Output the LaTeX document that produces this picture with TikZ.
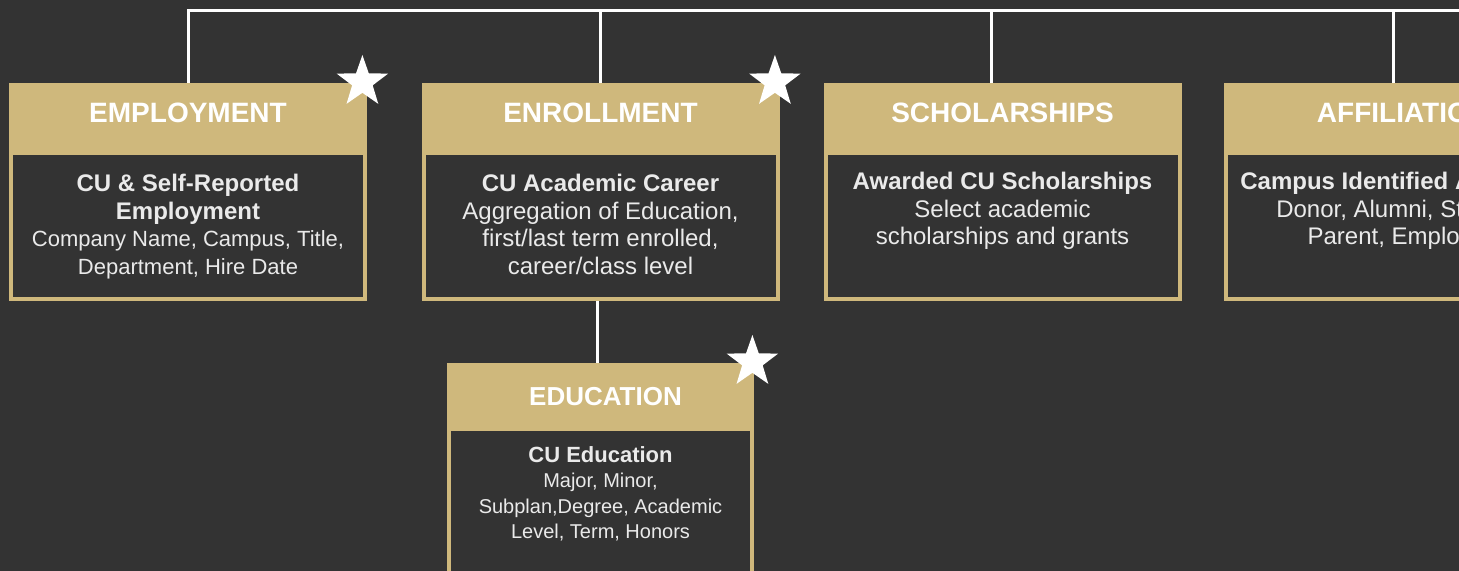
\documentclass[tikz,border=0pt]{standalone}
\usepackage{fontspec}
\setmainfont{Liberation Sans}
\usetikzlibrary{positioning,shapes.geometric,calc}
\definecolor{cugold}{HTML}{CFB87C}
\definecolor{slate}{HTML}{333333}
\definecolor{paleink}{HTML}{EAEAEA}
\tikzset{
  hdr/.style={rectangle,fill=cugold,text=white,font=\bfseries\fontsize{14}{16}\selectfont,
    minimum width=179pt,minimum height=35pt,inner sep=0pt,text height=10pt,text depth=6pt,anchor=north},
  eduhdr/.style={hdr,font=\bfseries\fontsize{13}{15}\selectfont,minimum width=153.5pt,
    minimum height=33pt,text height=9.3pt,text depth=0pt},
  boxframe/.style={rectangle,fill=slate,draw=cugold,line width=2pt,minimum width=177pt,
    minimum height=73pt,inner sep=0pt,anchor=north},
  bodytxt/.style={text=paleink,align=center,inner sep=0pt,font=\fontsize{11}{13.8}\selectfont},
  widetxt/.style={bodytxt,font=\fontsize{12}{13.8}\selectfont},
  wire/.style={draw=white,line width=1.5pt},
  starmark/.style={star,star points=5,star point ratio=2.5,fill=white,inner sep=0pt,minimum size=27pt}
}
\newcommand{\lead}[1]{{\bfseries\fontsize{12}{13.8}\selectfont #1}}
\begin{document}
\begin{tikzpicture}[x=0.5pt,y=-0.5pt]
\fill[slate] (0,0) rectangle (1459,571);
\useasboundingbox (0,0) rectangle (1459,571);
\clip (0,0) rectangle (1459,571);

% frames behind the headers
\node[boxframe] (empBox) at (188,151) {};
\node[boxframe] (enrBox) at (600.5,151) {};
\node[boxframe] (schBox) at (1002.5,151) {};
\node[boxframe] (affBox) at (1403,151) {};
\node[boxframe,minimum width=151.5pt,minimum height=100pt] (eduBox) at (600.5,427) {};

% headers
\node[hdr] (empHead) at (188,83) {EMPLOYMENT};
\node[hdr] (enrHead) at (600.5,83) {ENROLLMENT};
\node[hdr] (schHead) at (1002.5,83) {SCHOLARSHIPS};
\node[hdr] (affHead) at (1403,83) {AFFILIATION};
\node[eduhdr] (eduHead) at (600.5,363) {\hspace*{5pt}EDUCATION};

% body texts
\node[bodytxt,below=10pt of empHead] (empText) {\lead{CU \& Self-Reported}\\\lead{Employment}\\Company Name, Campus, Title,\\Department, Hire Date};
\node[widetxt,below=10pt of enrHead] (enrText) {\lead{CU Academic Career}\\Aggregation of Education,\\first/last term enrolled,\\career/class level};
\node[widetxt,below=9pt of schHead] (schText) {\lead{Awarded CU Scholarships}\\Select academic\\scholarships and grants};
\node[widetxt,below=9pt of affHead] (affText) {\lead{Campus Identified Affiliation}\\Donor, Alumni, Student,\\Parent, Employee};
\node[bodytxt,font=\fontsize{10}{12.8}\selectfont,below=8pt of eduHead] (eduText) {{\bfseries\fontsize{11}{12.8}\selectfont CU Education}\\Major, Minor,\\Subplan,Degree, Academic\\Level, Term, Honors};

% stars
\node[starmark] (empStar) at ($(empHead.north east)+(-5,-1)$) {};
\node[starmark] (enrStar) at ($(enrHead.north east)+(-5,-1)$) {};
\node[starmark] (eduStar) at ($(eduHead.north east)+(-2,-1)$) {};

% connectors
\coordinate (busL) at (188,11);
\coordinate (busR) at (1470,11);
\coordinate (schDrop) at (991,11);
\coordinate (affDrop) at (1393,11);
\coordinate (eduDrop) at (597,330);
\draw[wire] (busR) -- (busL) -- (empHead.north);
\draw[wire] (enrHead.north |- busL) -- (enrHead.north);
\draw[wire] (schDrop) -- (schDrop |- schHead.north);
\draw[wire] (affDrop) -- (affDrop |- affHead.north);
\draw[wire] (eduDrop |- enrBox.south) -- (eduDrop |- eduHead.north);
\end{tikzpicture}
\end{document}
